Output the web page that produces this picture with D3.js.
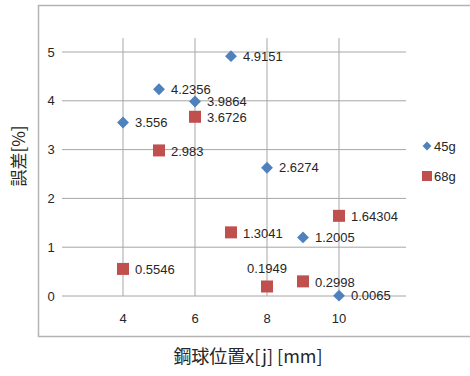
<!DOCTYPE html>
<html>
<head>
<meta charset="utf-8">
<script src="https://cdn.jsdelivr.net/npm/d3@7"></script>
<style>
  body { margin: 0; background: #fff; }
  text { font-family: "Liberation Sans", Arial, sans-serif; fill: #262626; }
  .title { font-family: "Noto Sans CJK JP", sans-serif; }
</style>
</head>
<body>
<div id="chart"></div>
<script>
const positions = [4, 5, 6, 7, 8, 9, 10];
const err45 = [3.556, 4.2356, 3.9864, 4.9151, 2.6274, 1.2005, 0.0065];
const err68 = [0.5546, 2.983, 3.6726, 1.3041, 0.1949, 0.2998, 1.64304];
const label68 = ['0.5546', '2.983', '3.6726', '1.3041', '0.1949', '0.2998', '1.64304'];
const label45 = ['3.556', '4.2356', '3.9864', '4.9151', '2.6274', '1.2005', '0.0065'];
const xTicks = [4, 6, 8, 10];
const yTicks = [0, 1, 2, 3, 4, 5];
const seriesNames = ['45g', '68g'];

const W = 470, H = 376;
const svg = d3.select('#chart').append('svg')
  .attr('width', W).attr('height', H);

// outer chart frame (runs off the right edge)
svg.append('rect')
  .attr('x', 38.5).attr('y', 5.5)
  .attr('width', 500).attr('height', 331)
  .attr('fill', 'none').attr('stroke', '#b4b4b4').attr('stroke-width', 1.5);

const x = d3.scaleLinear().domain([4, 10]).range([123, 339]);
const y = d3.scaleLinear().domain([0, 5]).range([296, 52]);
const plotLeft = 62, plotRight = 406, plotTop = 38;

// grid
svg.append('g').selectAll('line').data(yTicks).join('line')
  .attr('x1', plotLeft).attr('x2', plotRight)
  .attr('y1', d => y(d)).attr('y2', d => y(d))
  .attr('stroke', '#a6a6a6').attr('stroke-width', 1);
svg.append('g').selectAll('line').data(xTicks).join('line')
  .attr('x1', d => x(d)).attr('x2', d => x(d))
  .attr('y1', plotTop).attr('y2', y(0))
  .attr('stroke', '#a6a6a6').attr('stroke-width', 1);

// tick labels
svg.append('g').selectAll('text').data(yTicks).join('text')
  .attr('x', 51).attr('y', d => y(d)).attr('dy', '0.35em')
  .attr('text-anchor', 'middle').attr('font-size', 13)
  .text(d => d);
svg.append('g').selectAll('text').data(xTicks).join('text')
  .attr('x', d => x(d)).attr('y', 318).attr('dy', '0.35em')
  .attr('text-anchor', 'middle').attr('font-size', 13)
  .text(d => d);

// axis titles
svg.append('text').attr('class', 'title')
  .attr('x', 248).attr('y', 357).attr('dy', '0.35em')
  .attr('text-anchor', 'middle').attr('font-size', 18)
  .text('鋼球位置x[j] [mm]');
svg.append('text').attr('class', 'title')
  .attr('transform', 'translate(19,156) rotate(-90)')
  .attr('dy', '0.35em')
  .attr('text-anchor', 'middle').attr('font-size', 17)
  .text('誤差[%]');

const diamond = d3.symbol().type(d3.symbolDiamond2).size(90);
const blue = '#4f81bd', red = '#c0504d';

// 68g squares
svg.append('g').selectAll('rect').data(positions).join('rect')
  .attr('x', (d, i) => x(d) - 6).attr('y', (d, i) => y(err68[i]) - 6)
  .attr('width', 12).attr('height', 12).attr('fill', red);

// 45g diamonds
svg.append('g').selectAll('path').data(positions).join('path')
  .attr('transform', (d, i) => `translate(${x(d)},${y(err45[i])})`)
  .attr('d', diamond).attr('fill', blue);

// data labels
svg.append('g').selectAll('text').data(positions).join('text')
  .attr('x', (d, i) => x(d) + 12).attr('y', (d, i) => y(err45[i]))
  .attr('dy', '0.35em').attr('font-size', 13)
  .text((d, i) => label45[i]);
svg.append('g').selectAll('text').data(positions).join('text')
  .attr('x', (d, i) => i === 4 ? x(d) : x(d) + 12)
  .attr('y', (d, i) => i === 4 ? y(err68[i]) - 18 : y(err68[i]) + 1)
  .attr('text-anchor', (d, i) => i === 4 ? 'middle' : 'start')
  .attr('dy', '0.35em').attr('font-size', 13)
  .text((d, i) => label68[i]);

// legend
const legend = svg.append('g').attr('transform', 'translate(427,146)');
legend.append('path').attr('d', d3.symbol().type(d3.symbolDiamond2).size(50)).attr('fill', blue);
legend.append('rect').attr('x', -5).attr('y', 25).attr('width', 10).attr('height', 10).attr('fill', red);
legend.selectAll('text').data(seriesNames).join('text')
  .attr('x', 7).attr('y', (d, i) => i * 30).attr('dy', '0.35em')
  .attr('font-size', 13).text(d => d);
</script>
</body>
</html>
